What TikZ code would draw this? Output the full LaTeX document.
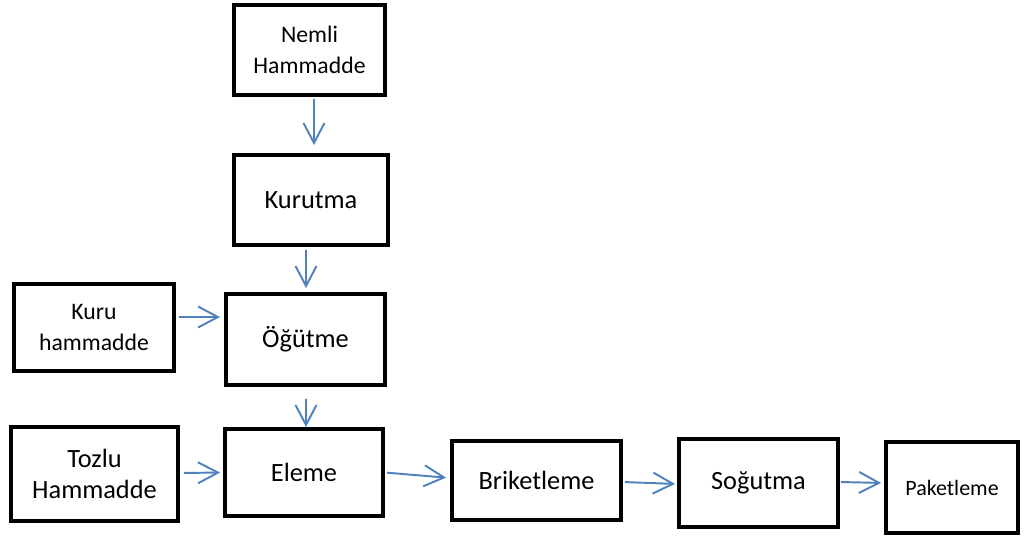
\documentclass[tikz,border=0pt]{standalone}
\usepackage{fontspec}
\setmainfont{Carlito}
\usepackage{xcolor}
\usepackage{tikz}
\usetikzlibrary{arrows.meta, positioning}

\definecolor{flowblue}{HTML}{4F81BD}

\begin{document}
\begin{tikzpicture}[x=0.02cm, y=-0.02cm,
        box/.style={draw, line width=2.2pt, inner sep=0pt, align=center,
            font=\fontsize{15}{18}\selectfont},
        small/.style={font=\fontsize{13.5}{17.5}\selectfont},
        flow/.style={draw=flowblue, line width=1.1pt,
            -{Straight Barb[length=0.4cm, width=0.42cm]}}]

        \useasboundingbox (0,0) rectangle (1024,537);

        \node[box, small, minimum width=3.02cm, minimum height=1.80cm] (nemli) at (309.5,50) {Nemli\\Hammadde};
        \node[box, minimum width=3.08cm, minimum height=1.80cm] (kurutma) at (311,200) {Kurutma};
        \node[box, small, minimum width=3.20cm, minimum height=1.74cm] (kuru) at (94,327.5) {Kuru\\hammadde};
        \node[box, minimum width=3.18cm, minimum height=1.82cm] (ogutme) at (305.5,339.5) {Öğütme};
        \node[box, minimum width=3.34cm, minimum height=1.88cm] (tozlu) at (94.5,474) {Tozlu\\Hammadde};
        \node[box, minimum width=3.16cm, minimum height=1.74cm] (eleme) at (304,472.5) {Eleme};
        \node[box, minimum width=3.38cm, minimum height=1.58cm] (briket) at (536.5,480.5) {Briketleme};
        \node[box, minimum width=3.18cm, minimum height=1.76cm] (sogutma) at (758.5,483) {Soğutma};
        \node[box, minimum width=2.64cm, minimum height=1.82cm,
            font=\fontsize{12.5}{15}\selectfont] (paket) at (952,487.5) {Paketleme};

        \draw[flow, shorten <=0.04cm, shorten >=0.16cm] ([xshift=0.09cm]nemli.south) -- ([xshift=0.06cm]kurutma.north);
        \draw[flow, shorten <=0.06cm, shorten >=0.08cm] ([xshift=-0.1cm]kurutma.south) -- ([xshift=0.01cm]ogutme.north);
        \draw[flow, shorten <=0.06cm, shorten >=0.08cm] ([yshift=0.21cm]kuru.east) -- ([yshift=0.45cm]ogutme.west);
        \draw[flow, shorten <=0.24cm] ([xshift=0.01cm]ogutme.south) -- ([xshift=0.04cm]eleme.north);
        \draw[flow, shorten <=0.08cm, shorten >=0.06cm] ([yshift=0.02cm]tozlu.east) -- (eleme.west);
        \draw[flow, shorten <=0.04cm, shorten >=0.08cm] (eleme.east) -- ([yshift=0.05cm]briket.west);
        \draw[flow, shorten <=0.04cm, shorten >=0.04cm] ([yshift=-0.03cm]briket.east) -- ([yshift=-0.02cm]sogutma.west);
        \draw[flow, shorten <=0.02cm, shorten >=0.06cm] ([yshift=0.02cm]sogutma.east) -- ([yshift=0.09cm]paket.west);
    \end{tikzpicture}
\end{document}
